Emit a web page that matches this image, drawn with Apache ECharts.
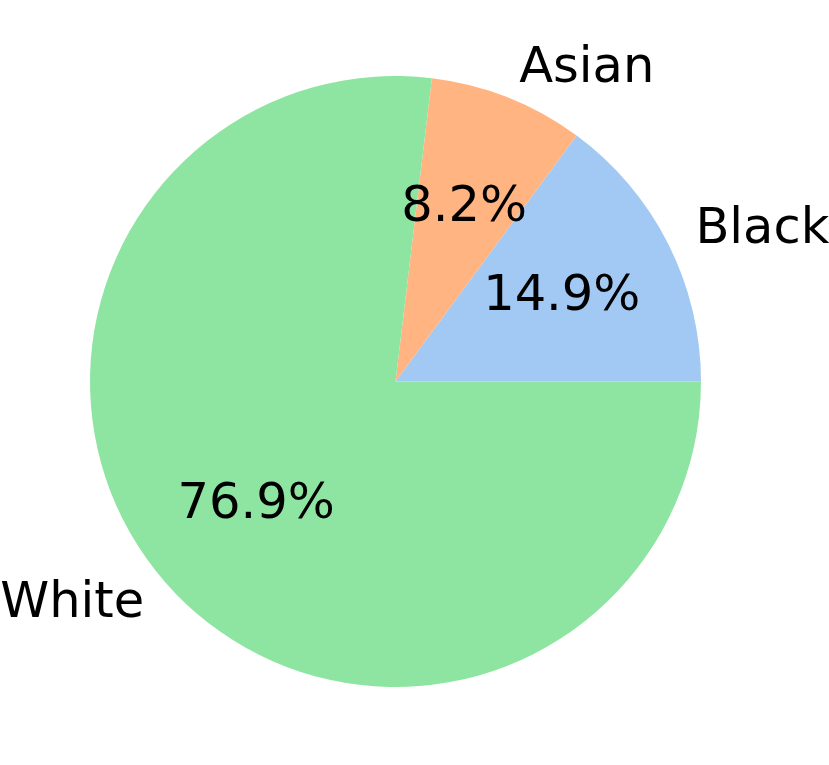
<!DOCTYPE html>
<html>
<head>
<meta charset="utf-8">
<script src="https://cdn.jsdelivr.net/npm/echarts@6/dist/echarts.min.js"></script>
<style>html,body{margin:0;padding:0;background:#fff}#c{width:829px;height:765px}</style>
</head>
<body>
<div id="c"></div>
<script>
const categories = ['Black', 'Asian', 'White'];
const values = [14.9, 8.2, 76.9];
const colors = ['#a1c9f4', '#ffb482', '#8de5a1'];

const chart = echarts.init(document.getElementById('c'), null, {renderer: 'canvas'});
const R = 305.5;
const center = [395.5, 381.5];
const font = {fontFamily: 'DejaVu Sans', fontSize: 49.5, color: '#000'};
const data = categories.map((n, i) => ({name: n, value: values[i], itemStyle: {color: colors[i]}}));

chart.setOption({
  animation: false,
  series: [
    {
      type: 'pie', center: center, radius: [0, R], startAngle: 0, clockwise: false,
      avoidLabelOverlap: false, silent: true, emphasis: {disabled: true},
      label: Object.assign({show: true, position: 'outside', distanceToLabelLine: 0, formatter: '{b}'}, font),
      labelLine: {show: false, length: R * 0.1, length2: 0},
      data: data
    },
    {
      type: 'pie', center: center, radius: [R * 0.2, R], startAngle: 0, clockwise: false,
      avoidLabelOverlap: false, silent: true, emphasis: {disabled: true}, percentPrecision: 1,
      itemStyle: {color: 'rgba(0,0,0,0)'},
      label: Object.assign({show: true, position: 'inside', formatter: '{d}%'}, font),
      labelLine: {show: false},
      data: categories.map((n, i) => ({name: n, value: values[i]}))
    }
  ]
});
</script>
</body>
</html>
